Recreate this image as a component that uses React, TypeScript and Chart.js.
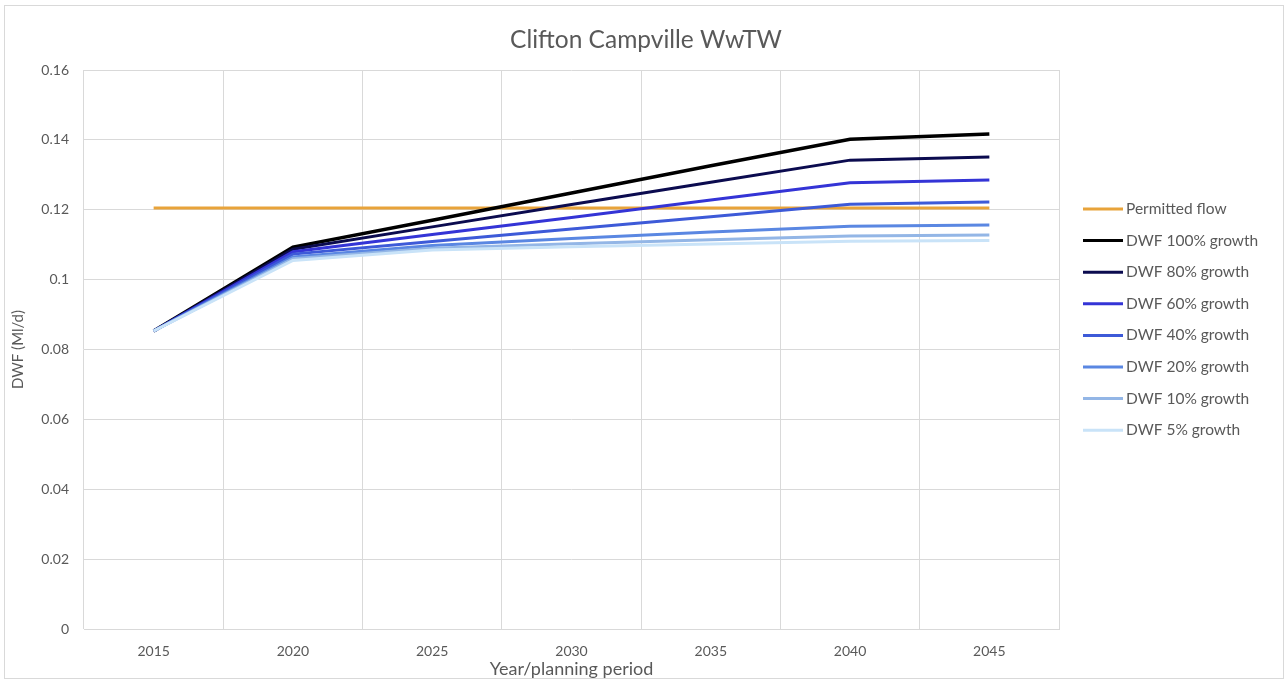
import React, { useEffect, useRef } from "react";
import { Chart, registerables } from "chart.js";

Chart.register(...registerables);

const chartTitle = "Clifton Campville WwTW";
const xAxisTitle = "Year/planning period";
const yAxisTitle = "DWF (Ml/d)";
const years = ["2015", "2020", "2025", "2030", "2035", "2040", "2045"];

const permittedFlow = [0.1205, 0.1205, 0.1205, 0.1205, 0.1205, 0.1205, 0.1205];
const dwf100 = [0.0853, 0.1093, 0.1170, 0.1248, 0.1326, 0.1402, 0.1417];
const dwf80 = [0.0853, 0.1087, 0.1151, 0.1215, 0.1279, 0.1342, 0.1351];
const dwf60 = [0.0853, 0.1080, 0.1129, 0.1178, 0.1228, 0.1277, 0.1285];
const dwf40 = [0.0853, 0.1073, 0.1109, 0.1145, 0.1180, 0.1216, 0.1222];
const dwf20 = [0.0853, 0.1065, 0.1098, 0.1118, 0.1136, 0.1153, 0.1156];
const dwf10 = [0.0853, 0.1060, 0.1090, 0.1103, 0.1114, 0.1125, 0.1128];
const dwf5 = [0.0853, 0.1055, 0.1085, 0.1094, 0.1102, 0.1110, 0.1112];

const seriesNames = [
  "Permitted flow",
  "DWF 100% growth",
  "DWF 80% growth",
  "DWF 60% growth",
  "DWF 40% growth",
  "DWF 20% growth",
  "DWF 10% growth",
  "DWF 5% growth",
];
const seriesData = [permittedFlow, dwf100, dwf80, dwf60, dwf40, dwf20, dwf10, dwf5];
const seriesColors = [
  "#e8a33a",
  "#000000",
  "#0b0b4f",
  "#3434d6",
  "#3d5ad8",
  "#5a87e2",
  "#93b6e6",
  "#c9e3f8",
];

const FONT = "Lato, 'Open Sans', sans-serif";
const TEXT = "#595959";
const GRID = "#d9d9d9";

const decorPlugin = {
  id: "decor",
  afterDraw(chart: any) {
    const ctx = chart.ctx as CanvasRenderingContext2D;
    ctx.save();
    // frame
    ctx.strokeStyle = GRID;
    ctx.lineWidth = 1;
    ctx.strokeRect(4.5, 5.5, 1279, 673);
    // title
    ctx.fillStyle = TEXT;
    ctx.font = `24.5px ${FONT}`;
    ctx.textAlign = "center";
    ctx.textBaseline = "middle";
    ctx.fillText(chartTitle, 646, 40);
    // legend
    ctx.font = `15.5px ${FONT}`;
    ctx.textAlign = "left";
    const ds = chart.data.datasets;
    for (let i = 0; i < ds.length; i++) {
      const y = 209 + i * 31.6;
      ctx.strokeStyle = ds[i].borderColor;
      ctx.lineWidth = 3;
      ctx.beginPath();
      ctx.moveTo(1083, y);
      ctx.lineTo(1123, y);
      ctx.stroke();
      ctx.fillStyle = TEXT;
      ctx.fillText(ds[i].label, 1126, y);
    }
    ctx.restore();
  },
};

export default function App() {
  const ref = useRef<HTMLCanvasElement | null>(null);
  useEffect(() => {
    if (!ref.current) return;
    const chart = new Chart(ref.current, {
      type: "line",
      data: {
        labels: years,
        datasets: seriesNames.map((name, i) => ({
          label: name,
          data: seriesData[i],
          borderColor: seriesColors[i],
          backgroundColor: seriesColors[i],
          borderWidth: i === 1 ? 3.5 : 3,
          pointRadius: 0,
          tension: 0,
          fill: false,
          order: seriesNames.length - i,
        })),
      },
      options: {
        animation: false,
        responsive: false,
        maintainAspectRatio: false,
        layout: { padding: { left: 5, top: 70, right: 227, bottom: 0 } },
        plugins: {
          legend: { display: false },
          title: { display: false },
          tooltip: { enabled: false },
        },
        scales: {
          x: {
            type: "category",
            offset: true,
            grid: { offset: true, color: GRID, drawTicks: false },
            border: { color: GRID },
            ticks: { color: TEXT, font: { family: FONT, size: 14 }, padding: 14, maxRotation: 0 },
            title: {
              display: true,
              text: xAxisTitle,
              color: TEXT,
              font: { family: FONT, size: 18 },
              padding: { top: 0, bottom: 2 },
            },
            afterFit(scale: any) {
              scale.height = 53;
            },
          },
          y: {
            min: 0,
            max: 0.16,
            grid: { color: GRID, drawTicks: false },
            border: { display: false },
            ticks: {
              stepSize: 0.02,
              color: TEXT,
              font: { family: FONT, size: 14 },
              padding: 15,
              callback: (v: any) => String(Number(Number(v).toFixed(2))),
            },
            title: {
              display: true,
              text: yAxisTitle,
              color: TEXT,
              font: { family: FONT, size: 15 },
              padding: { top: 4, bottom: 4 },
            },
            afterFit(scale: any) {
              scale.width = 79;
            },
          },
        },
      },
      plugins: [decorPlugin],
    } as any);
    return () => chart.destroy();
  }, []);
  return (
    <div style={{ position: "absolute", left: 0, top: 0, width: 1286, height: 682, background: "#fff" }}>
      <canvas ref={ref} width={1286} height={682} style={{ width: 1286, height: 682, display: "block" }} />
    </div>
  );
}
